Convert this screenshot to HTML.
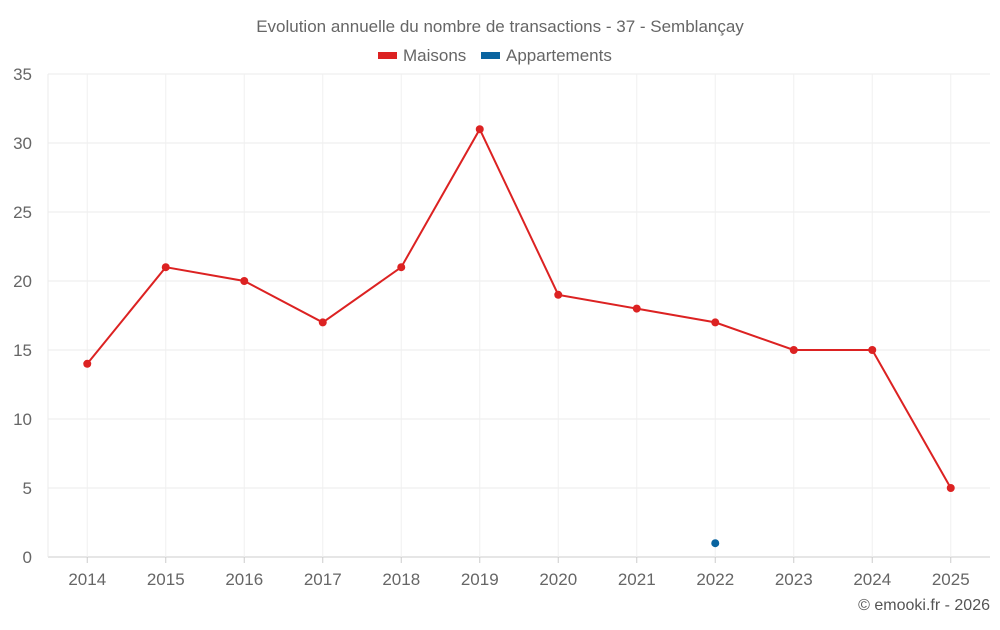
<!DOCTYPE html>
<html><head><meta charset="utf-8"><style>
body{margin:0;background:#fff;font-family:"Liberation Sans",sans-serif;}
svg text{font-family:"Liberation Sans",sans-serif;}
</style></head><body>
<svg id="chart" width="1000" height="625">
<text x="500" y="32" text-anchor="middle" font-size="17" fill="#666">Evolution annuelle du nombre de transactions - 37 - Semblançay</text>
<g>
<g><rect x="378" y="52" width="19" height="7" fill="#dc2222"/><text x="403" y="61" font-size="17" fill="#666">Maisons</text></g>
<g><rect x="481" y="52" width="19" height="7" fill="#0a64a0"/><text x="506" y="61" font-size="17" fill="#666">Appartements</text></g>
</g>
<g id="grid"></g><g id="axes"></g><g id="series"></g>
<text x="990" y="610" text-anchor="end" font-size="16" fill="#555">© emooki.fr - 2026</text>
</svg>
<script>
const years=["2014","2015","2016","2017","2018","2019","2020","2021","2022","2023","2024","2025"];
const maisons=[14,21,20,17,21,31,19,18,17,15,15,5];
const appartements=[null,null,null,null,null,null,null,null,1,null,null,null];
const yTicks=[0,5,10,15,20,25,30,35];
const L=48,R=990,T=74,B=557,yMax=35;
const bw=(R-L)/years.length;
const x=i=>L+bw*(i+0.5);
const y=v=>B-(v/yMax)*(B-T);
const NS="http://www.w3.org/2000/svg";
function mk(p,tag,a){const e=document.createElementNS(NS,tag);for(const k in a)e.setAttribute(k,a[k]);p.appendChild(e);return e;}
const grid=document.getElementById('grid'),axes=document.getElementById('axes'),ser=document.getElementById('series');
yTicks.forEach(t=>{
 const l=mk(grid,'line',{x1:L,x2:R,y1:y(t),y2:y(t),stroke:t===0?'#ccc':'#ebebeb','stroke-width':1});
 
 
 const tx=mk(axes,'text',{x:32,y:y(t)+6,'text-anchor':'end','font-size':17,fill:'#666'});tx.textContent=t;
 
 
});
mk(grid,'line',{x1:L,x2:L,y1:T,y2:B,stroke:'#ebebeb'});
years.forEach((yr,i)=>{
 const l=mk(grid,'line',{x1:x(i),x2:x(i),y1:T,y2:B,stroke:'#f0f0f0'});
 
 
 mk(axes,'line',{x1:x(i),x2:x(i),y1:B,y2:B+6,stroke:'#ccc'});
 const tx=mk(axes,'text',{x:x(i),y:585,'text-anchor':'middle','font-size':17,fill:'#666'});tx.textContent=yr;
 
 
});
function draw(vals,color,name){
 let d='';vals.forEach((v,i)=>{if(v!=null)d+=(d?'L':'M')+x(i)+','+y(v);});
 if(d.indexOf('L')>0){const p=mk(ser,'path',{d:d,fill:'none',stroke:color,'stroke-width':2});
 
 }
 vals.forEach((v,i)=>{if(v==null)return;
  const c=mk(ser,'circle',{cx:x(i),cy:y(v),r:4,fill:color});
  
  });
}
draw(maisons,'#dc2222','maisons');
draw(appartements,'#0a64a0','appartements');
</script>
</body></html>
